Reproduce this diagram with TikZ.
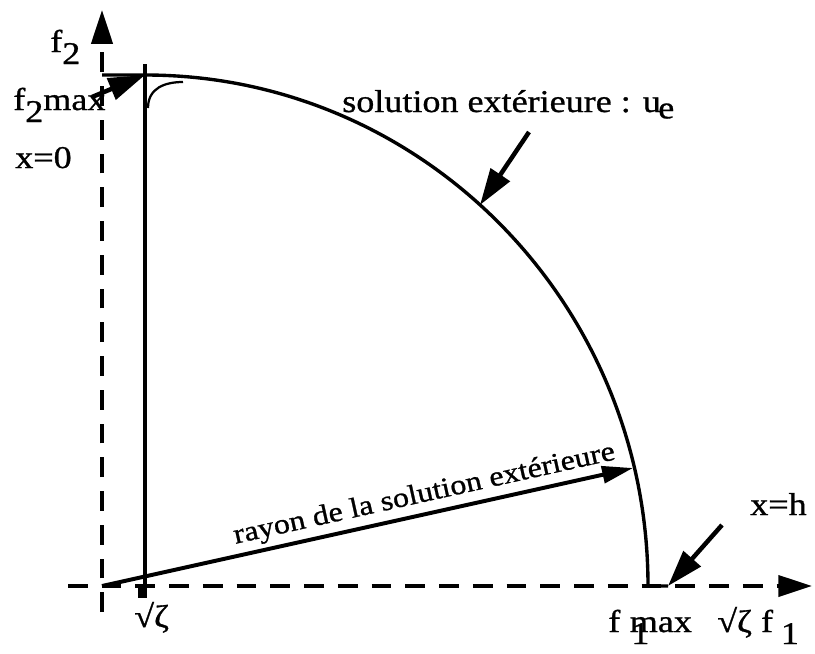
\documentclass[tikz,border=0pt]{standalone}
\usepackage{fontspec}
\setmainfont{Liberation Serif}[FakeStretch=1.14, FakeBold=0.9]
\usetikzlibrary{arrows.meta}
\newcommand{\bas}[1]{\raisebox{-0.38em}{#1}}
\begin{document}
\begin{tikzpicture}[x=0.025cm,y=-0.025cm,
    axe/.style={line width=2.6pt, dash pattern=on 14pt off 10pt, -{Triangle[length=24pt,width=15pt]}},
    courbe/.style={line width=2.4pt},
    fleche/.style={line width=3.2pt, -{Triangle[length=26pt,width=16pt]}},
    lbl/.style={font=\fontsize{22.5}{26}\selectfont, inner sep=0pt, anchor=base west}]
    \useasboundingbox (0,0) rectangle (815,653);

    % Axes
    \coordinate (O) at (102,586);
    \coordinate (xstart) at (68,586);
    \coordinate (xend) at (812,586);
    \coordinate (ystart) at (102,612);
    \coordinate (yend) at (102,10);
    \draw[axe] (xstart) -- (xend);
    \draw[axe] (ystart) -- (yend);

    % Points on the curve
    \coordinate (left) at (102,75);
    \coordinate (top) at (145,75);
    \coordinate (foot) at (145,598);
    \coordinate (fin) at (668,586);
    \coordinate (R) at (633,468);
    \coordinate (ue) at (480,205);

    % Solution exterieure
    \draw[courbe] (145,64) -- (foot);
    \fill (138,584) rectangle (146,598);
    \draw[courbe] (left) -- (top)
        arc[start angle=-90, end angle=0, x radius=503, y radius=511] -- (fin);
    \draw[line width=1.6pt] (148,108) .. controls (148,88) and (165,82) .. (183,82);

    % Rayon
    \draw[line width=2.8pt, -{Triangle[length=22pt,width=12pt]}] (O) -- (R)
        node[pos=0.615, sloped, above=3pt, inner sep=0pt, font=\fontsize{20}{24}\selectfont] (lrayon)
        {rayon de la solution extérieure};

    % Labels
    \node[lbl] (lf2) at (50,52) {f\bas{2}};
    \node[lbl] (lf2max) at (13,110) {f\bas{2}max};
    \node[lbl] (lx0) at (15,168) {x=0};
    \node[lbl] (lue) at (342,112) {solution extérieure : u\kern-0.08em\raisebox{-0.2em}{e}};
    \node[lbl] (lxh) at (750,515) {x=h};
    \node[lbl] (lzeta) at (134,627) {√ζ};
    \node[lbl] (lf1max) at (608,632) {f\kern0.3em\rlap{\kern0.05em\bas{1}}max};
    \node[lbl] (lzf1) at (717,632) {√ζ f\kern0.25em\bas{1}};

    % Arrows
    \coordinate (f2tail) at (92,97);
    \coordinate (uetail) at (529,132);
    \coordinate (xhtail) at (722,525);
    \draw[fleche] (f2tail) -- (top);
    \draw[fleche] (uetail) -- (ue);
    \draw[fleche] (xhtail) -- (fin);
\end{tikzpicture}
\end{document}
